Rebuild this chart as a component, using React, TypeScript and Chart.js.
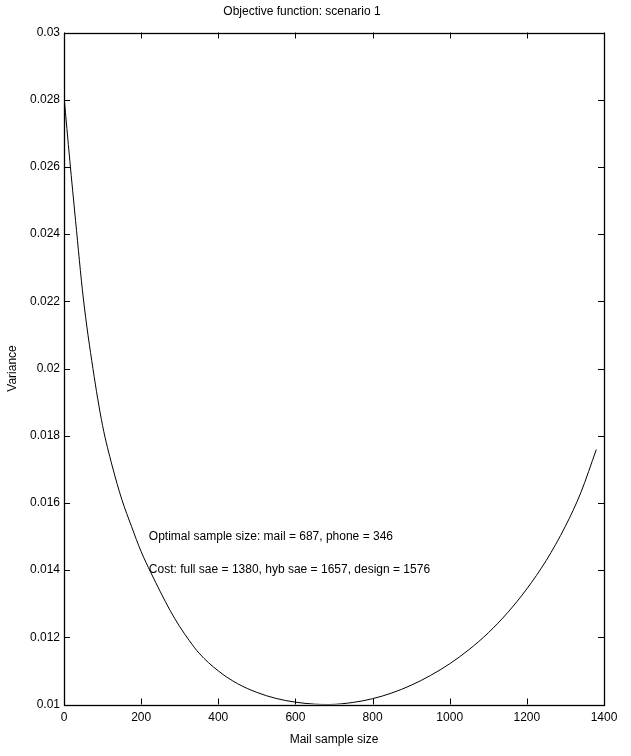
import React, { useEffect, useRef } from "react";
import { Chart, registerables } from "chart.js";

Chart.register(...registerables);

const chartTitle = "Objective function: scenario 1";
const xTitle = "Mail sample size";
const yTitle = "Variance";

const mailSize = [0, 15, 30, 50, 75, 100, 125, 150, 175, 200, 225, 250, 275, 300, 325, 350, 400, 450, 500, 550, 600, 650, 687, 750, 800, 850, 900, 950, 1000, 1050, 1100, 1150, 1200, 1250, 1300, 1340, 1380];
const variance = [0.0281, 0.0262, 0.0244, 0.0221, 0.02, 0.0183, 0.0171, 0.0161, 0.0153, 0.01455, 0.01393, 0.01335, 0.0128, 0.01232, 0.0119, 0.01153, 0.011, 0.01062, 0.01036, 0.01018, 0.01007, 0.01001, 0.01, 0.010063, 0.010173, 0.010343, 0.010573, 0.010863, 0.011213, 0.011633, 0.012133, 0.012733, 0.013443, 0.014283, 0.015308, 0.016308, 0.017588];

const noteTexts = [
  "Optimal sample size: mail = 687, phone = 346",
  "Cost: full sae = 1380, hyb sae = 1657, design = 1576",
];
const noteX = [220, 220];
const noteY = [0.015, 0.014];

const xMin = 0;
const xMax = 1400;
const xStep = 200;
const yMin = 0.01;
const yMax = 0.03;
const yStep = 0.002;

const FONT = "'Liberation Sans', Arial, Helvetica, sans-serif";

const boxPlugin = {
  id: "matlabBox",
  afterDraw(chart: any) {
    const { ctx, chartArea: a, scales } = chart;
    const xs = scales.x;
    const ys = scales.y;
    ctx.save();
    ctx.strokeStyle = "#000";
    ctx.lineWidth = 1;
    const tl = 6;
    ctx.beginPath();
    xs.ticks.forEach((t: any) => {
      const px = Math.round(xs.getPixelForValue(t.value)) + 0.5;
      ctx.moveTo(px, a.bottom);
      ctx.lineTo(px, a.bottom - tl);
      ctx.moveTo(px, a.top);
      ctx.lineTo(px, a.top + tl);
    });
    ys.ticks.forEach((t: any) => {
      const py = Math.round(ys.getPixelForValue(t.value)) + 0.5;
      ctx.moveTo(a.left, py);
      ctx.lineTo(a.left + tl, py);
      ctx.moveTo(a.right, py);
      ctx.lineTo(a.right - tl, py);
    });
    ctx.stroke();
    ctx.lineWidth = 1.3;
    ctx.strokeRect(Math.round(a.left) + 0.5, Math.round(a.top) + 0.5, Math.round(a.right - a.left), Math.round(a.bottom - a.top));
    ctx.fillStyle = "#000";
    ctx.font = `12px ${FONT}`;
    ctx.textAlign = "left";
    ctx.textBaseline = "middle";
    noteTexts.forEach((txt, i) => {
      ctx.fillText(txt, xs.getPixelForValue(noteX[i]), ys.getPixelForValue(noteY[i]));
    });
    ctx.restore();
  },
};

export default function App() {
  const ref = useRef<HTMLCanvasElement>(null);
  useEffect(() => {
    if (!ref.current) return;
    const chart = new Chart(ref.current, {
      type: "line",
      data: {
        datasets: [
          {
            data: mailSize.map((x, i) => ({ x, y: variance[i] })),
            borderColor: "#000",
            borderWidth: 1,
            pointRadius: 0,
            fill: false,
            cubicInterpolationMode: "monotone",
          },
        ],
      },
      options: {
        responsive: false,
        animation: false,
        layout: { padding: { left: 0, right: 27, top: 0, bottom: 0 } },
        plugins: {
          legend: { display: false },
          tooltip: { enabled: false },
          title: {
            display: true,
            text: chartTitle,
            color: "#000",
            font: { family: FONT, size: 12, weight: "normal", lineHeight: 1.2 },
            padding: { top: 4, bottom: 14.1 },
          },
        },
        scales: {
          x: {
            type: "linear",
            min: xMin,
            max: xMax,
            grid: { display: false, drawTicks: false },
            border: { display: false },
            ticks: {
              stepSize: xStep,
              color: "#000",
              padding: 6,
              maxRotation: 0,
              font: { family: FONT, size: 12 },
              callback: (v: any) => String(v),
            },
            title: {
              display: true,
              text: xTitle,
              color: "#000",
              font: { family: FONT, size: 12, lineHeight: 1.2 },
              padding: { top: 0, bottom: 9 },
            },
            afterFit: (s: any) => {
              s.height = 51.5;
            },
          },
          y: {
            type: "linear",
            min: yMin,
            max: yMax,
            grid: { display: false, drawTicks: false },
            border: { display: false },
            ticks: {
              stepSize: yStep,
              color: "#000",
              padding: 4,
              font: { family: FONT, size: 12 },
              callback: (v: any) => String(parseFloat(Number(v).toFixed(3))),
            },
            title: {
              display: true,
              text: yTitle,
              color: "#000",
              font: { family: FONT, size: 12, lineHeight: 1.2 },
              padding: { top: 5, bottom: 0 },
            },
            afterFit: (s: any) => {
              s.width = 64;
            },
          },
        },
      },
      plugins: [boxPlugin],
    } as any);
    return () => chart.destroy();
  }, []);
  return (
    <div style={{ position: "absolute", left: 0, top: 0, width: 631, height: 756, background: "#fff" }}>
      <canvas ref={ref} width={631} height={756} />
    </div>
  );
}
